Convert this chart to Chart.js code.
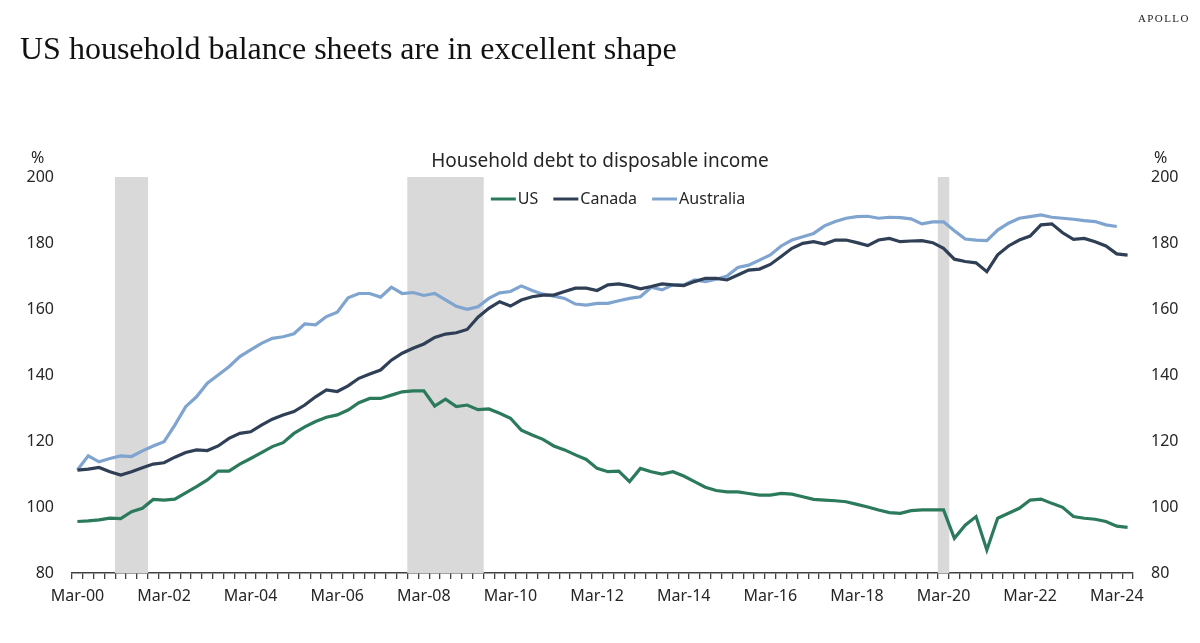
<!DOCTYPE html>
<html>
<head>
<meta charset="utf-8">
<script src="https://cdn.jsdelivr.net/npm/chart.js@4"></script>
<style>
  body { margin: 0; background: #fff; }
  #wrap { position: relative; width: 1200px; height: 643px; overflow: hidden; }
  #chart { position: absolute; left: 0; top: 0; }
  .txt { position: absolute; white-space: nowrap; color: #262626; }
  #headline { left: 20px; top: 30px; font-family: "Liberation Serif", serif; font-size: 32px; color: #111; }
  #brand { left: 1138px; top: 12px; font-family: "Liberation Serif", serif; font-size: 11px; letter-spacing: 1.4px; color: #222; }
  #subtitle { left: 0; width: 1200px; text-align: center; top: 147px; font-family: "Noto Sans", sans-serif; font-size: 19px; }
  .pct { top: 146px; font-family: "Noto Sans", sans-serif; font-size: 16px; }
</style>
</head>
<body>
<div id="wrap">
  <canvas id="chart" width="1200" height="643"></canvas>
  <div id="headline" class="txt">US household balance sheets are in excellent shape</div>
  <div id="brand" class="txt">APOLLO</div>
  <div id="subtitle" class="txt">Household debt to disposable income</div>
  <div class="txt pct" style="left:31px">%</div>
  <div class="txt pct" style="left:1154px">%</div>
</div>
<script>
// quarters Mar-00 .. Jun-24
const months = ["Mar", "Jun", "Sep", "Dec"];
const quarters = [];
for (let y = 0; y <= 24; y++) {
  for (const m of months) {
    if (y === 24 && (m === "Sep" || m === "Dec")) continue;
    quarters.push(m + "-" + String(y).padStart(2, "0"));
  }
}

// recession shading
const recessionQuarters = ["Mar-01", "Jun-01", "Sep-01",
  "Dec-07", "Mar-08", "Jun-08", "Sep-08", "Dec-08", "Mar-09", "Jun-09",
  "Mar-20"];

const usDebt = [95.6, 95.8, 96.1, 96.6, 96.5, 98.6, 99.6, 102.3, 102.1, 102.4,
  104.3, 106.2, 108.2, 110.9, 110.9, 113.0, 114.7, 116.5, 118.3, 119.5,
  122.3, 124.3, 125.9, 127.2, 127.9, 129.4, 131.6, 132.9, 132.9, 133.9,
  134.9, 135.2, 135.2, 130.6, 132.7, 130.4, 130.9, 129.5, 129.7, 128.4,
  126.9, 123.3, 121.8, 120.5, 118.5, 117.3, 115.8, 114.4, 111.7, 110.7,
  110.9, 107.7, 111.7, 110.7, 110.0, 110.7, 109.4, 107.7, 106.0, 105.0,
  104.6, 104.6, 104.1, 103.6, 103.6, 104.1, 103.9, 103.1, 102.3, 102.1,
  101.9, 101.6, 100.8, 100.0, 99.1, 98.3, 98.1, 98.9, 99.1, 99.1,
  99.1, 90.5, 94.5, 97.1, 87.0, 96.6, 98.1, 99.6, 102.1, 102.4,
  101.1, 99.9, 97.1, 96.6, 96.3, 95.6, 94.2, 93.8];

const canadaDebt = [111.2, 111.5, 112.0, 110.7, 109.7, 110.7, 111.9, 113.0, 113.4, 115.1,
  116.5, 117.3, 117.1, 118.5, 120.8, 122.3, 122.8, 124.8, 126.6, 127.9,
  128.9, 130.9, 133.4, 135.5, 135.0, 136.7, 139.0, 140.3, 141.5, 144.5,
  146.6, 148.1, 149.4, 151.4, 152.4, 152.8, 153.8, 157.5, 160.2, 162.2,
  160.9, 162.7, 163.7, 164.2, 164.2, 165.3, 166.3, 166.3, 165.6, 167.3,
  167.6, 167.0, 166.1, 166.8, 167.6, 167.3, 167.1, 168.3, 169.3, 169.3,
  168.8, 170.3, 171.8, 172.1, 173.5, 175.9, 178.4, 179.9, 180.4, 179.7,
  180.9, 180.9, 180.1, 179.2, 180.9, 181.4, 180.4, 180.6, 180.7, 180.1,
  178.4, 175.1, 174.4, 174.0, 171.3, 176.4, 179.1, 180.9, 182.1, 185.5,
  185.8, 183.1, 181.1, 181.4, 180.4, 179.1, 176.7, 176.3];

const australiaDebt = [111.2, 115.5, 113.7, 114.7, 115.5, 115.3, 117.0, 118.5, 119.8, 124.8,
  130.4, 133.4, 137.5, 140.0, 142.5, 145.6, 147.6, 149.6, 151.1, 151.6,
  152.5, 155.5, 155.2, 157.7, 159.0, 163.4, 164.7, 164.7, 163.6, 166.6,
  164.7, 165.0, 164.1, 164.7, 162.8, 160.8, 159.9, 160.7, 163.2, 164.9,
  165.3, 167.0, 165.6, 164.5, 163.9, 163.2, 161.5, 161.2, 161.7, 161.7,
  162.5, 163.2, 163.7, 166.6, 165.8, 167.3, 167.3, 168.8, 168.3, 169.0,
  170.0, 172.6, 173.3, 174.8, 176.4, 179.1, 180.9, 181.9, 182.9, 185.2,
  186.5, 187.5, 188.0, 188.1, 187.5, 187.8, 187.7, 187.3, 185.8, 186.4,
  186.4, 183.7, 181.2, 180.9, 180.7, 183.9, 186.0, 187.5, 188.0, 188.5,
  187.8, 187.5, 187.2, 186.8, 186.5, 185.5, 185.0, null];

const yMin = 80, yMax = 200, yStep = 20;

const green = "#2b7a5b";
const navy = "#2f3f56";
const lightBlue = "#7ea4cf";
const grey = "#404040";
const tickFont = { family: "Noto Sans", size: 16 };

const shade = quarters.map(q => recessionQuarters.includes(q) ? [yMin, yMax] : null);

function lineSet(label, data, color) {
  return {
    type: "line", label, data,
    borderColor: color, backgroundColor: color,
    borderWidth: 3.2, pointRadius: 0, tension: 0, order: 1
  };
}

// legend drawn inside the plot, in one row
const rowLegend = {
  id: "rowLegend",
  afterDatasetsDraw(chart) {
    const ctx = chart.ctx;
    const items = chart.data.datasets.filter(d => d.type === "line");
    ctx.save();
    ctx.font = "16px 'Noto Sans'";
    ctx.textBaseline = "middle";
    const lineW = 25, gapText = 2, gapItem = 15;
    const widths = items.map(d => lineW + gapText + ctx.measureText(d.label).width);
    const total = widths.reduce((a, b) => a + b, 0) + gapItem * (items.length - 1);
    let x = 618 - total / 2;
    const y = chart.chartArea.top + 22;
    items.forEach((d, k) => {
      ctx.strokeStyle = d.borderColor;
      ctx.lineWidth = 3;
      ctx.beginPath();
      ctx.moveTo(x, y);
      ctx.lineTo(x + lineW, y);
      ctx.stroke();
      ctx.fillStyle = "#262626";
      ctx.fillText(d.label, x + lineW + gapText, y);
      x += widths[k] + gapItem;
    });
    ctx.restore();
  }
};

new Chart(document.getElementById("chart"), {
  type: "line",
  data: {
    labels: quarters,
    datasets: [
      lineSet("US", usDebt, green),
      lineSet("Canada", canadaDebt, navy),
      lineSet("Australia", australiaDebt, lightBlue),
      {
        type: "bar", label: "Recession", data: shade,
        backgroundColor: "#d9d9d9", borderWidth: 0,
        barPercentage: 1, categoryPercentage: 1, order: 2
      }
    ]
  },
  options: {
    responsive: false,
    animation: false,
    layout: { padding: { left: 27, right: 22, top: 177, bottom: 25 } },
    plugins: {
      tooltip: { enabled: false },
      title: { display: false },
      legend: { display: false }
    },
    scales: {
      x: {
        offset: true,
        grid: { offset: true, drawOnChartArea: false, drawTicks: true, tickLength: 6, color: grey, lineWidth: 1.3 },
        border: { display: true, color: grey, width: 1.5 },
        ticks: {
          autoSkip: false, maxRotation: 0, minRotation: 0, padding: 8,
          color: "#262626", font: tickFont,
          callback: (v, i) => i % 8 === 0 ? quarters[i] : ""
        },
        afterFit: s => { s.height = 45; }
      },
      y: {
        position: "left", min: yMin, max: yMax,
        grid: { display: false, drawTicks: false },
        border: { display: false },
        ticks: { stepSize: yStep, padding: 18, color: "#262626", font: tickFont },
        afterFit: s => { s.width = 45; }
      },
      y2: {
        position: "right", min: yMin, max: yMax,
        grid: { display: false, drawTicks: false },
        border: { display: false },
        ticks: { stepSize: yStep, padding: 18, color: "#262626", font: tickFont },
        afterFit: s => { s.width = 45; }
      }
    }
  },
  plugins: [rowLegend]
});
</script>
</body>
</html>
